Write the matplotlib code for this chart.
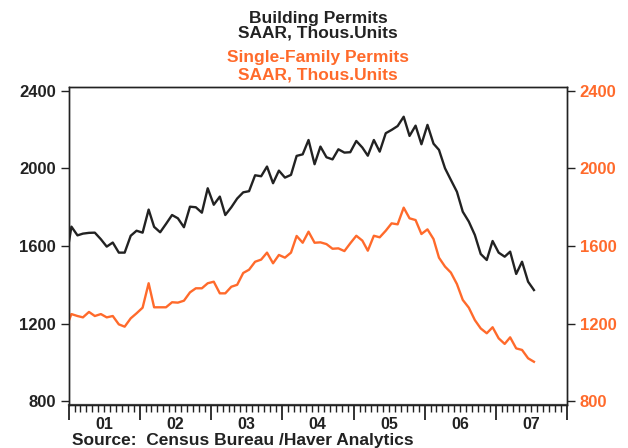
import matplotlib
matplotlib.use("Agg")
import matplotlib.pyplot as plt
import matplotlib.dates as mdates
import matplotlib.transforms as mtransforms
import pandas as pd

# Monthly data, Dec 2000 .. Jul 2007 (SAAR, thousands of units)
start_month = "2000-12-01"
total_permits = [
    1510,
    1700, 1655, 1664, 1668, 1669, 1635, 1597, 1618, 1566, 1566, 1653, 1679,
    1669, 1788, 1699, 1671, 1714, 1760, 1743, 1697, 1803, 1800, 1772, 1898,
    1813, 1855, 1760, 1800, 1845, 1877, 1883, 1965, 1960, 2010, 1924, 1989,
    1953, 1967, 2065, 2073, 2147, 2022, 2113, 2058, 2047, 2099, 2082, 2084,
    2142, 2108, 2066, 2147, 2087, 2182, 2199, 2219, 2267, 2168, 2221, 2125,
    2225, 2128, 2096, 2001, 1941, 1880, 1777, 1726, 1657, 1559, 1528, 1626,
    1566, 1545, 1571, 1456, 1519, 1416, 1373,
]
single_family = [
    1171,
    1249, 1239, 1232, 1260, 1239, 1249, 1232, 1239, 1196, 1184, 1227, 1253,
    1282, 1408, 1284, 1284, 1284, 1310, 1308, 1318, 1361, 1382, 1382, 1408,
    1416, 1356, 1356, 1390, 1400, 1461, 1478, 1519, 1530, 1566, 1511, 1554,
    1540, 1566, 1652, 1617, 1674, 1617, 1619, 1610, 1586, 1588, 1574, 1614,
    1653, 1628, 1576, 1653, 1645, 1679, 1717, 1712, 1798, 1743, 1734, 1662,
    1686, 1636, 1540, 1494, 1463, 1404, 1322, 1282, 1218, 1175, 1150, 1181,
    1124, 1095, 1129, 1072, 1064, 1021, 1003,
]
years = [2001, 2002, 2003, 2004, 2005, 2006, 2007]
year_labels = ["01", "02", "03", "04", "05", "06", "07"]
y_ticks = [800, 1200, 1600, 2000, 2400]

BLACK = "#222222"
ORANGE = "#FF6A2B"
FONT = "Liberation Sans"

dates = pd.date_range(start_month, periods=len(total_permits), freq="MS") + pd.Timedelta(days=14)

fig = plt.figure(figsize=(6.28, 4.48), dpi=100)
ax = fig.add_axes([0.1094, 0.096, 0.7936, 0.7105])
ax.plot(dates, total_permits, color=BLACK, lw=1.7)
ax2 = ax.twinx()
ax2.plot(dates, single_family, color=ORANGE, lw=1.7)

ylo, yhi = 780, 2422
for a in (ax, ax2):
    a.set_ylim(ylo, yhi)
    a.set_yticks(y_ticks)
    a.set_xlim(pd.Timestamp("2001-01-01"), pd.Timestamp("2008-01-01"))
    for s in a.spines.values():
        s.set_color("#222222")
        s.set_linewidth(1.0)
ax.spines["bottom"].set_linewidth(1.6)
ax.spines["bottom"].set_color("#444444")

ax.tick_params(axis="y", direction="out", length=6, width=1, colors=BLACK, pad=3)
ax2.tick_params(axis="y", direction="out", length=6, width=1, color=BLACK, labelcolor=ORANGE, pad=3)
for lab in list(ax.get_yticklabels()) + list(ax2.get_yticklabels()):
    lab.set_fontfamily(FONT); lab.set_fontweight("bold"); lab.set_fontsize(12)

ax.xaxis.set_major_locator(mdates.YearLocator())
ax.xaxis.set_minor_locator(mdates.MonthLocator())
ax.xaxis.set_major_formatter(plt.NullFormatter())
ax.tick_params(axis="x", which="major", direction="out", length=11, width=1.3, color=BLACK)
ax.tick_params(axis="x", which="minor", direction="out", length=5, width=1, color=BLACK)

trans = mtransforms.blended_transform_factory(ax.transData, fig.transFigure)
for yr, lab in zip(years, year_labels):
    ax.text(mdates.date2num(pd.Timestamp(f"{yr}-07-01")), 1 - 424 / 448, lab,
            transform=trans, ha="center", va="center", fontsize=11.5,
            fontweight="bold", family=FONT, color=BLACK)

cx = 0.1094 + 0.7936 / 2
tkw = dict(ha="center", va="center", fontsize=12.5, family=FONT, fontweight="bold")
fig.text(cx, 1 - 19 / 448, "Building Permits", color=BLACK, **tkw)
fig.text(cx, 1 - 32.5 / 448, "SAAR, Thous.Units", color=BLACK, **tkw)
fig.text(cx, 1 - 57.5 / 448, "Single-Family Permits", color=ORANGE, **tkw)
fig.text(cx, 1 - 75 / 448, "SAAR, Thous.Units", color=ORANGE, **tkw)
fig.text(72 / 628, 1 - 440 / 448, "Source:  Census Bureau /Haver Analytics",
         ha="left", va="center", fontsize=12.5, family=FONT, fontweight="bold",
         color=BLACK)

fig.savefig("out.png", dpi=100)
